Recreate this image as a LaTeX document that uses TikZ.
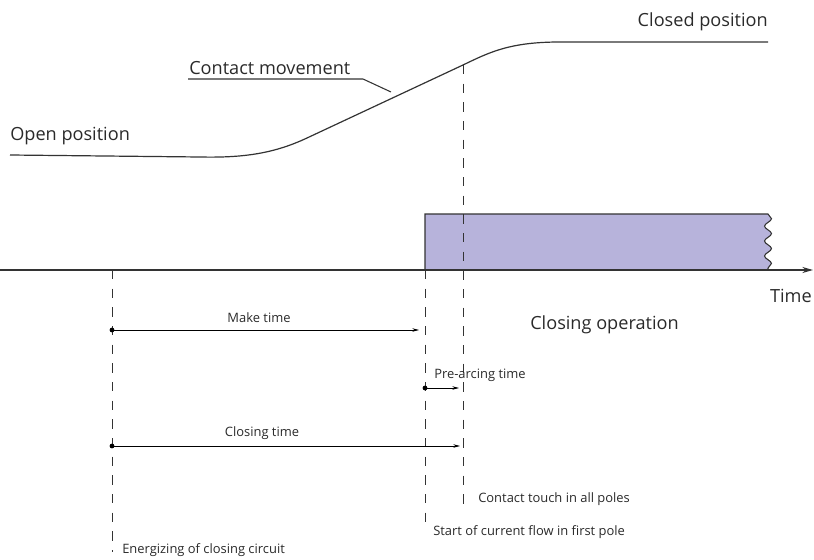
\documentclass[tikz,border=0pt]{standalone}
\usepackage{fontspec}
\setmainfont{Open Sans}
\usetikzlibrary{arrows.meta,decorations.pathmorphing}
\definecolor{linegray}{HTML}{333333}
\definecolor{bandfill}{HTML}{B7B3DB}
\definecolor{txtgray}{HTML}{2A2A2A}
\begin{document}
\begin{tikzpicture}[x=0.75pt,y=-0.75pt,
  biglabel/.style={font=\fontsize{13.6}{15}\selectfont, text=txtgray, inner sep=0pt},
  smalllabel/.style={font=\fontsize{9.7}{11}\selectfont, text=txtgray, inner sep=0pt},
  guide/.style={draw=linegray, line width=0.6pt, dash pattern=on 7pt off 7pt},
  span/.style={draw=black, line width=0.5pt, -{Stealth[length=5pt,width=2.6pt]}},
  startdot/.style={circle, fill=black, inner sep=0pt, minimum size=3.6pt},
  curve/.style={draw=linegray, line width=0.9pt}]
\useasboundingbox (0,0) rectangle (814,560);

% current band with broken right edge
\path[fill=bandfill, draw=linegray, line width=0.8pt]
  (425,270) -- (425,214) -- (768,214)
  decorate[decoration={snake, segment length=11.2, amplitude=2.6}] {-- (768,270)};

% time axis
\coordinate (axL) at (0,270);
\coordinate (axR) at (813,270);
\draw[draw=linegray, line width=0.9pt, -{Stealth[length=8pt,width=4.5pt]}] (axL) -- (axR);
\node[biglabel, anchor=north east] (time) at (812,289) {Time};

% contact movement curve
\coordinate (g3t) at (463,65);
\draw[curve] (10,155) -- (200,157)
  .. controls (245,158) and (275,153) .. (307,138)
  -- (g3t)
  .. controls (490,52) and (510,42) .. (560,42)
  -- (768,42);

\node[biglabel, anchor=south east] (closed) at (768,31) {Closed position};
\node[biglabel, anchor=south west] (open) at (10,145) {Open position};
\node[biglabel, anchor=south west] (move) at (189,75) {Contact movement};
\coordinate (cm) at (391,92);
\draw[draw=linegray, line width=0.8pt] (188,79) -- (363,79) -- (cm);

\node[biglabel, anchor=west] (closing) at (530,325) {Closing operation};

% vertical guide lines
\coordinate (g1t) at (112,270);
\coordinate (g1b) at (112,552);
\coordinate (g2t) at (425,270);
\coordinate (g2b) at (425,525);
\coordinate (g3b) at (463,504);
\draw[guide] (g1t) -- (g1b);
\draw[guide] (g2t) -- (g2b);
\draw[guide] (g3t) -- (g3b);

% interval spans
\node[startdot] (mk0) at (112,330) {};
\coordinate (mk1) at (419,330);
\draw[span] (mk0.center) -- (mk1);
\node[smalllabel, anchor=south] (mklbl) at (259,323) {Make time};

\node[startdot] (pa0) at (425,388) {};
\coordinate (pa1) at (459,388);
\draw[span] (pa0.center) -- (pa1);
\node[smalllabel, anchor=south west] (palbl) at (434,382) {Pre-arcing time};

\node[startdot] (cl0) at (112,446) {};
\coordinate (cl1) at (460,446);
\draw[span] (cl0.center) -- (cl1);
\node[smalllabel, anchor=south] (cllbl) at (262,440) {Closing time};

% event labels
\node[smalllabel, anchor=west] (touch) at (478,499) {Contact touch in all poles};
\node[smalllabel, anchor=west] (flow) at (433,532) {Start of current flow in first pole};
\node[smalllabel, anchor=west] (energ) at (122,550) {Energizing of closing circuit};
\end{tikzpicture}
\end{document}
